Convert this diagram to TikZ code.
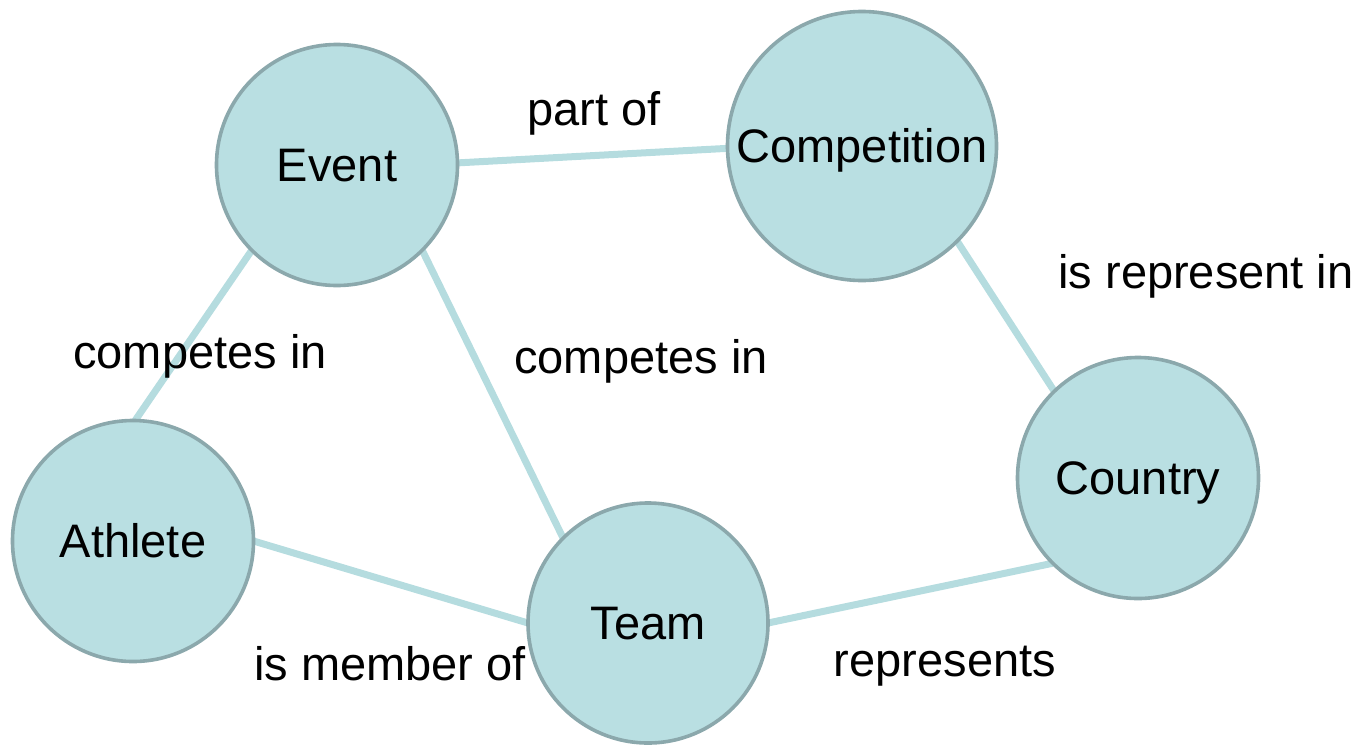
\documentclass[tikz,border=0pt]{standalone}
\usepackage{fontspec}
\setmainfont{Liberation Sans}
\pgfdeclarelayer{edges}
\pgfdeclarelayer{labels}
\pgfsetlayers{edges,labels,main}
\definecolor{nodefill}{HTML}{B9DFE2}
\definecolor{nodeline}{HTML}{8BA8AC}
\definecolor{edgecol}{HTML}{B5DCDF}
\begin{document}
\begin{tikzpicture}[x=0.75pt,y=-0.75pt,
  entity/.style={circle,draw=nodeline,fill=nodefill,line width=2.7pt,inner sep=0pt,outer sep=0pt,
    font=\fontsize{35.25}{40}\selectfont,text height=25.2pt,text depth=0pt},
  rel/.style={line width=5.25pt,draw=edgecol},
  lbl/.style={font=\fontsize{35.25}{40}\selectfont,anchor=base,inner sep=0pt}]
\useasboundingbox (0,0) rectangle (1366,747);

\node[entity,minimum size=180.75pt] (event) at (337,165) {Event};
\node[entity,minimum size=201.75pt,text depth=-3pt] (comp) at (862,146) {Competition};
\node[entity,minimum size=180.75pt] (country) at (1138,478) {Country};
\node[entity,minimum size=180.75pt] (athlete) at (133,541) {Athlete};
\node[entity,minimum size=180pt] (team) at (648,623) {Team};

\begin{pgfonlayer}{edges}
\draw[rel] (event.1) -- (comp.181);
\draw[rel] (event.225) -- (athlete.89);
\draw[rel] (event.315) -- (team.135);
\draw[rel] (comp.315) -- (country.134);
\draw[rel] (athlete.0) -- (team.180);
\draw[rel] (team.0) -- (country.225);
\end{pgfonlayer}

\begin{pgfonlayer}{labels}
\node[lbl] (l1) at (594,125) {part of};
\node[lbl] (l2) at (1206,288) {is represent in};
\node[lbl] (l3) at (200,368) {competes in};
\node[lbl] (l4) at (641,373) {competes in};
\node[lbl] (l5) at (390,680) {is member of};
\node[lbl] (l6) at (945,676) {represents};
\end{pgfonlayer}
\end{tikzpicture}
\end{document}
